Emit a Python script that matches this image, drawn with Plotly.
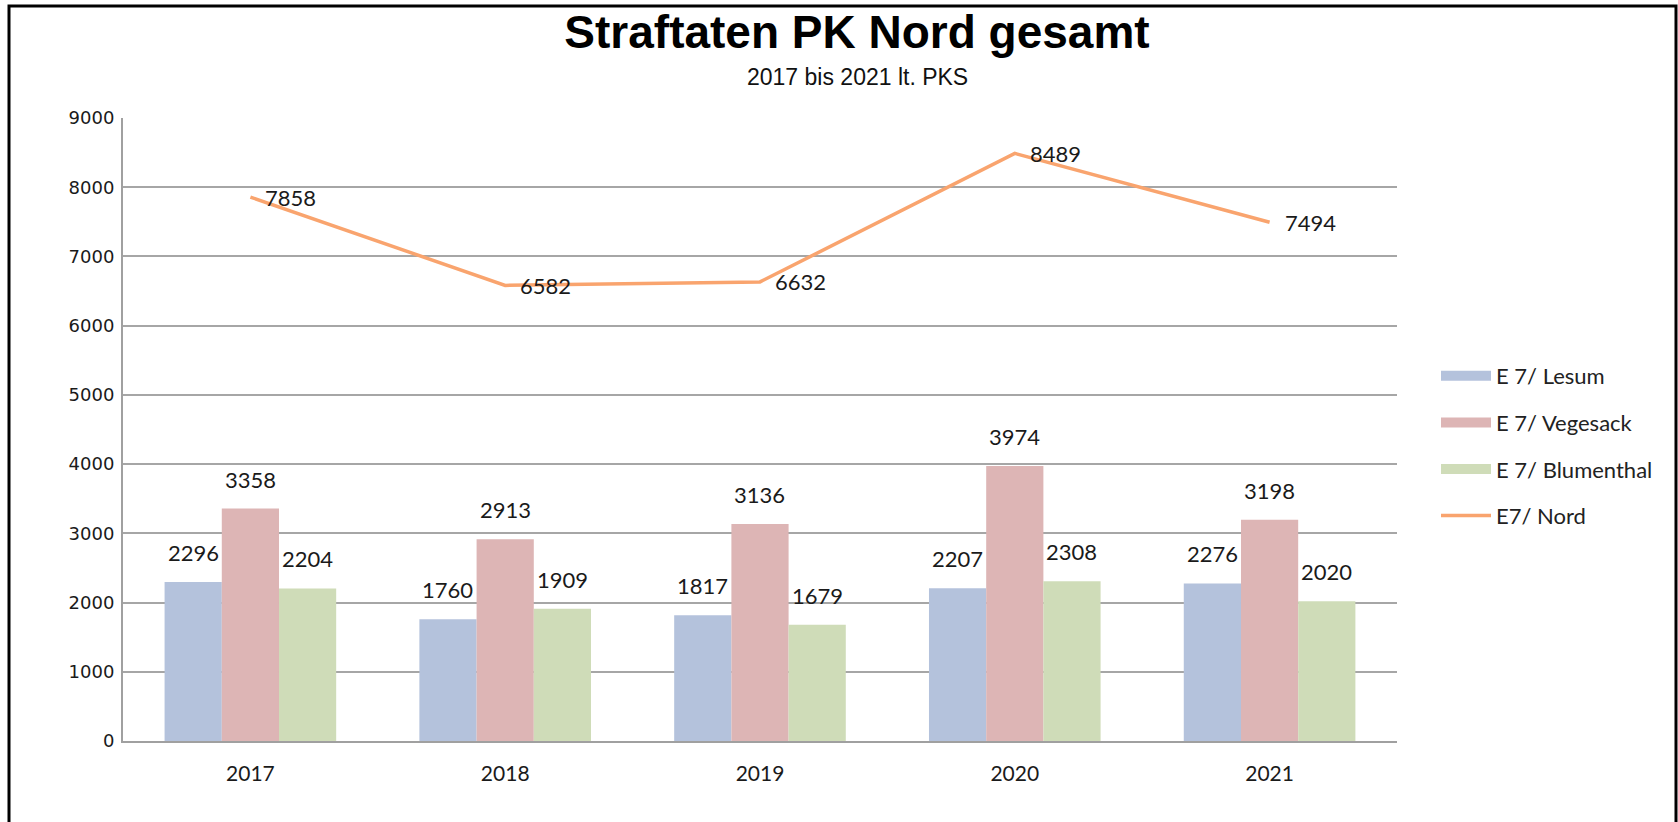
import plotly.graph_objects as go

years = ["2017", "2018", "2019", "2020", "2021"]
lesum = [2296, 1760, 1817, 2207, 2276]
vegesack = [3358, 2913, 3136, 3974, 3198]
blumenthal = [2204, 1909, 1679, 2308, 2020]
nord = [7858, 6582, 6632, 8489, 7494]

series = [
    ("E 7/ Lesum", lesum, "#B4C2DC"),
    ("E 7/ Vegesack", vegesack, "#DDB5B5"),
    ("E 7/ Blumenthal", blumenthal, "#CFDCB8"),
]
line_name = "E7/ Nord"
line_color = "#F9A46E"

title_text = "Straftaten PK Nord gesamt"
subtitle_text = "2017 bis 2021 lt. PKS"

# style constants
BAR_W = 0.2245
GROUP_START = -0.3368
label_font = dict(family="Lato", size=22, color="#1a1a1a")

# figure geometry (page margin removed via post_script)
W, H = 1678, 822
L, R, T, B = 123, 281, 118, 81
pw, ph = W - L - R, H - T - B


def px_x(p):
    return (p - L) / pw


def px_y(p):
    return (H - B - p) / ph


xs = list(range(len(years)))
fig = go.Figure()
annotations = []
for k, (name, vals, color) in enumerate(series):
    off = GROUP_START + k * BAR_W
    fig.add_trace(go.Bar(
        x=xs, y=vals, name=name, marker=dict(color=color, line=dict(width=0)),
        width=BAR_W, offset=off, showlegend=False,
    ))
    # legend entry with a wide swatch
    fig.add_trace(go.Scatter(
        x=[None], y=[None], mode="lines", name=name,
        line=dict(color=color, width=12), legendgroup=name,
    ))
    for i, v in zip(xs, vals):
        annotations.append(dict(
            x=i + off + BAR_W / 2, y=v, xref="x", yref="y", text=str(v),
            showarrow=False, yanchor="bottom", xanchor="center", yshift=14,
            font=label_font,
        ))

fig.add_trace(go.Scatter(
    x=xs, y=nord, name=line_name, mode="lines",
    line=dict(color=line_color, width=3.5), legendgroup=line_name,
))
for i, v in zip(xs, nord):
    annotations.append(dict(
        x=i, y=v, xref="x", yref="y", text=str(v), showarrow=False,
        xanchor="left", yanchor="middle", xshift=13, font=label_font,
    ))

annotations.append(dict(
    x=px_x(857), y=px_y(77), xref="paper", yref="paper", text=subtitle_text,
    showarrow=False, xanchor="center", yanchor="middle",
    font=dict(family="Liberation Sans", size=23, color="#111111"),
))

fig.update_layout(
    width=W, height=H,
    margin=dict(l=L, r=R, t=T, b=B, pad=0),
    paper_bgcolor="white", plot_bgcolor="white",
    barmode="overlay",
    title=dict(
        text=title_text, x=px_x(857), xref="paper", xanchor="center",
        y=1 - 32 / H, yref="container", yanchor="middle",
        font=dict(family="Liberation Sans", size=46, color="#000000", weight="bold"),
    ),
    xaxis=dict(
        range=[-0.5, len(years) - 0.5], tickmode="array", tickvals=xs, ticktext=years,
        showgrid=False, zeroline=False, showline=True, linecolor="#A0A0A0", linewidth=2,
        ticks="", tickfont=dict(family="Lato", size=21, color="#1a1a1a"),
        ticklabelstandoff=13,
    ),
    yaxis=dict(
        range=[0, 9000], dtick=1000, tick0=0, showgrid=True, gridcolor="#A6A6A6",
        gridwidth=2, zeroline=False, showline=True, linecolor="#A0A0A0", linewidth=2,
        ticks="", tickfont=dict(family="DejaVu Sans", size=18, color="#1a1a1a"),
        ticklabelstandoff=3,
    ),
    legend=dict(
        x=px_x(1436), y=px_y(355), xanchor="left", yanchor="top",
        font=dict(family="Lato", size=22, color="#222222"),
        itemwidth=50, tracegroupgap=15, bgcolor="rgba(0,0,0,0)",
    ),
    annotations=annotations,
    shapes=[dict(
        type="rect", xref="paper", yref="paper",
        x0=px_x(9), x1=px_x(1676), y0=px_y(840), y1=px_y(6),
        line=dict(color="black", width=3), fillcolor="rgba(0,0,0,0)", layer="above",
    )],
    showlegend=True,
)

fig.write_html(
    "out.html",
    config={"displayModeBar": False},
    post_script="document.body.style.margin='0';document.body.style.overflow='hidden';",
)
